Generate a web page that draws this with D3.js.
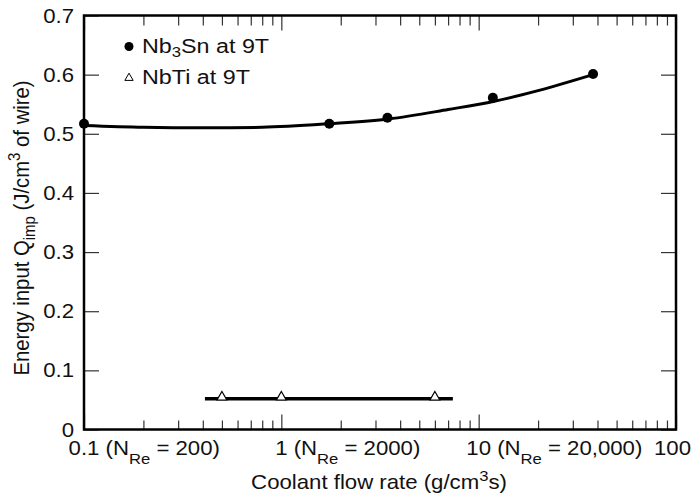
<!DOCTYPE html>
<html>
<head>
<meta charset="utf-8">
<script src="https://cdn.jsdelivr.net/npm/d3@7"></script>
<style>
  body { margin: 0; background: #fff; }
  text { font-family: "Liberation Sans", Arial, sans-serif; fill: #111; }
</style>
</head>
<body>
<div id="chart"></div>
<script>
// Data
const nb3snFlow = [0.1, 1.75, 3.45, 11.8, 38];
const nb3snEnergy = [0.517, 0.517, 0.527, 0.561, 0.601];
// fitted curve through the Nb3Sn points
const fitFlow = [0.1, 0.2, 0.4, 0.8, 1.75, 3.5, 7, 12, 20, 38];
const fitEnergy = [0.514, 0.511, 0.510, 0.511, 0.517, 0.525, 0.541, 0.555, 0.573, 0.600];
const nbtiFlow = [0.5, 1, 6];
const nbtiEnergy = [0.053, 0.053, 0.053];
const nbtiLineFlow = [0.41, 7.4];
const nbtiLineEnergy = [0.052, 0.052];

const yTicks = [0, 0.1, 0.2, 0.3, 0.4, 0.5, 0.6, 0.7];
const yTickLabels = ["0", "0.1", "0.2", "0.3", "0.4", "0.5", "0.6", "0.7"];
const xMajor = [0.1, 1, 10, 100];
const xTickNumbers = ["0.1", "1", "10", "100"];
const xTickRe = ["200", "2000", "20,000", null];
const legendNames = ["Nb", "NbTi at 9T"];

const dims = { width: 693, height: 496, left: 84, right: 17, top: 15.5, bottom: 66.5 };
dims.ctrWidth = dims.width - dims.left - dims.right;
dims.ctrHeight = dims.height - dims.top - dims.bottom;
const sx = 1.11; // horizontal text stretch of the original lettering

const svg = d3.select("#chart").append("svg")
  .attr("width", dims.width)
  .attr("height", dims.height);

const ctr = svg.append("g")
  .attr("transform", `translate(${dims.left},${dims.top})`);

const xScale = d3.scaleLog().domain([0.1, 100]).range([0, dims.ctrWidth]);
const yScale = d3.scaleLinear().domain([0, 0.7]).range([dims.ctrHeight, 0]);

const xMinor = [];
xMajor.slice(0, -1).forEach(d => {
  for (let k = 2; k <= 9; k++) xMinor.push(d * k);
});

// Ticks (inside)
function styleAxis(g) {
  g.select(".domain").remove();
  g.selectAll(".tick line").attr("stroke", "#333").attr("stroke-width", 1.2);
  g.selectAll(".tick text").remove();
}
ctr.append("g").attr("transform", `translate(0,${dims.ctrHeight})`)
  .call(d3.axisBottom(xScale).tickValues(xMinor).tickSize(-9)).call(styleAxis);
ctr.append("g").attr("transform", `translate(0,${dims.ctrHeight})`)
  .call(d3.axisBottom(xScale).tickValues(xMajor).tickSize(-15)).call(styleAxis);
ctr.append("g")
  .call(d3.axisTop(xScale).tickValues(xMinor).tickSize(-10)).call(styleAxis);
ctr.append("g")
  .call(d3.axisTop(xScale).tickValues(xMajor).tickSize(-15)).call(styleAxis);
ctr.append("g")
  .call(d3.axisLeft(yScale).tickValues(yTicks).tickSize(-15)).call(styleAxis);
ctr.append("g").attr("transform", `translate(${dims.ctrWidth},0)`)
  .call(d3.axisRight(yScale).tickValues(yTicks).tickSize(-15)).call(styleAxis);

// Frame
ctr.append("rect")
  .attr("width", dims.ctrWidth)
  .attr("height", dims.ctrHeight)
  .attr("fill", "none")
  .attr("stroke", "#000")
  .attr("stroke-width", 2.5);

// Y tick labels
ctr.selectAll(".ylab").data(yTicks).join("text")
  .attr("class", "ylab")
  .attr("transform", d => `translate(-10,${yScale(d)}) scale(${sx},1)`)
  .attr("text-anchor", "end")
  .attr("dy", "0.35em")
  .attr("font-size", 20)
  .text((d, i) => yTickLabels[i]);

// X tick labels
xMajor.forEach((d, i) => {
  const t = ctr.append("text")
    .attr("font-size", 20);
  const num = t.append("tspan").text(xTickNumbers[i]);
  if (xTickRe[i]) {
    t.append("tspan").text(" (N");
    t.append("tspan").attr("font-size", 15).attr("dy", 9).text("Re");
    t.append("tspan").attr("dy", -9).text(` = ${xTickRe[i]})`);
  }
  const w = num.node().getComputedTextLength();
  // keep the last label inside the page
  let tx = xScale(d);
  const maxX = dims.width - dims.left - 2 - (w * sx) / 2;
  if (tx > maxX) tx = maxX;
  t.attr("transform", `translate(${tx},${dims.ctrHeight + 25}) scale(${sx},1)`);
  t.attr("x", -w / 2);
  num.attr("x", -w / 2);
});

// Axis titles
const xt = svg.append("text")
  .attr("transform", `translate(379,489) scale(${sx},1)`)
  .attr("text-anchor", "middle")
  .attr("font-size", 20);
xt.append("tspan").text("Coolant flow rate (g/cm");
xt.append("tspan").attr("font-size", 15).attr("dy", -8).text("3");
xt.append("tspan").attr("dy", 8).text("s)");

const yt = svg.append("text")
  .attr("transform", "translate(29,228) rotate(-90) scale(1,1.1)")
  .attr("text-anchor", "middle")
  .attr("font-size", 20.3);
yt.append("tspan").text("Energy input Q");
yt.append("tspan").attr("font-size", 15).attr("dy", 5).text("imp");
yt.append("tspan").attr("dy", -5).text(" (J/cm");
yt.append("tspan").attr("font-size", 15).attr("dy", -8).text("3");
yt.append("tspan").attr("dy", 8).text(" of wire)");

// Nb3Sn fitted curve
const fit = fitFlow.map((d, i) => [d, fitEnergy[i]]);
ctr.append("path")
  .datum(fit)
  .attr("d", d3.line()
    .x(d => xScale(d[0]))
    .y(d => yScale(d[1]))
    .curve(d3.curveMonotoneX))
  .attr("fill", "none")
  .attr("stroke", "#000")
  .attr("stroke-width", 3);

ctr.selectAll(".nb3sn").data(nb3snFlow).join("circle")
  .attr("class", "nb3sn")
  .attr("cx", d => xScale(d))
  .attr("cy", (d, i) => yScale(nb3snEnergy[i]))
  .attr("r", 5)
  .attr("fill", "#000");

// NbTi line and triangles
const nbtiLine = nbtiLineFlow.map((d, i) => [d, nbtiLineEnergy[i]]);
ctr.append("path")
  .datum(nbtiLine)
  .attr("d", d3.line().x(d => xScale(d[0])).y(d => yScale(d[1])))
  .attr("stroke", "#000")
  .attr("stroke-width", 3.5);

const tri = d3.symbol().type(d3.symbolTriangle).size(42);
ctr.selectAll(".nbti").data(nbtiFlow).join("path")
  .attr("class", "nbti")
  .attr("transform", (d, i) => `translate(${xScale(d)},${yScale(nbtiEnergy[i]) - 1})`)
  .attr("d", tri)
  .attr("fill", "#fff")
  .attr("stroke", "#000")
  .attr("stroke-width", 1.2);

// Legend
const legend = svg.append("g");
legend.append("circle").attr("cx", 129).attr("cy", 46.5).attr("r", 4.5).attr("fill", "#000");
const l1 = legend.append("text")
  .attr("transform", `translate(142,53) scale(${sx},1)`)
  .attr("font-size", 21);
l1.append("tspan").text(legendNames[0]);
l1.append("tspan").attr("font-size", 15).attr("dy", 4).text("3");
l1.append("tspan").attr("dy", -4).text("Sn at 9T");

legend.append("path")
  .attr("transform", "translate(129,78)")
  .attr("d", d3.symbol().type(d3.symbolTriangle).size(30))
  .attr("fill", "#fff")
  .attr("stroke", "#000")
  .attr("stroke-width", 1);
legend.append("text")
  .attr("transform", `translate(142,84) scale(${sx},1)`)
  .attr("font-size", 21)
  .text(legendNames[1]);
</script>
</body>
</html>
